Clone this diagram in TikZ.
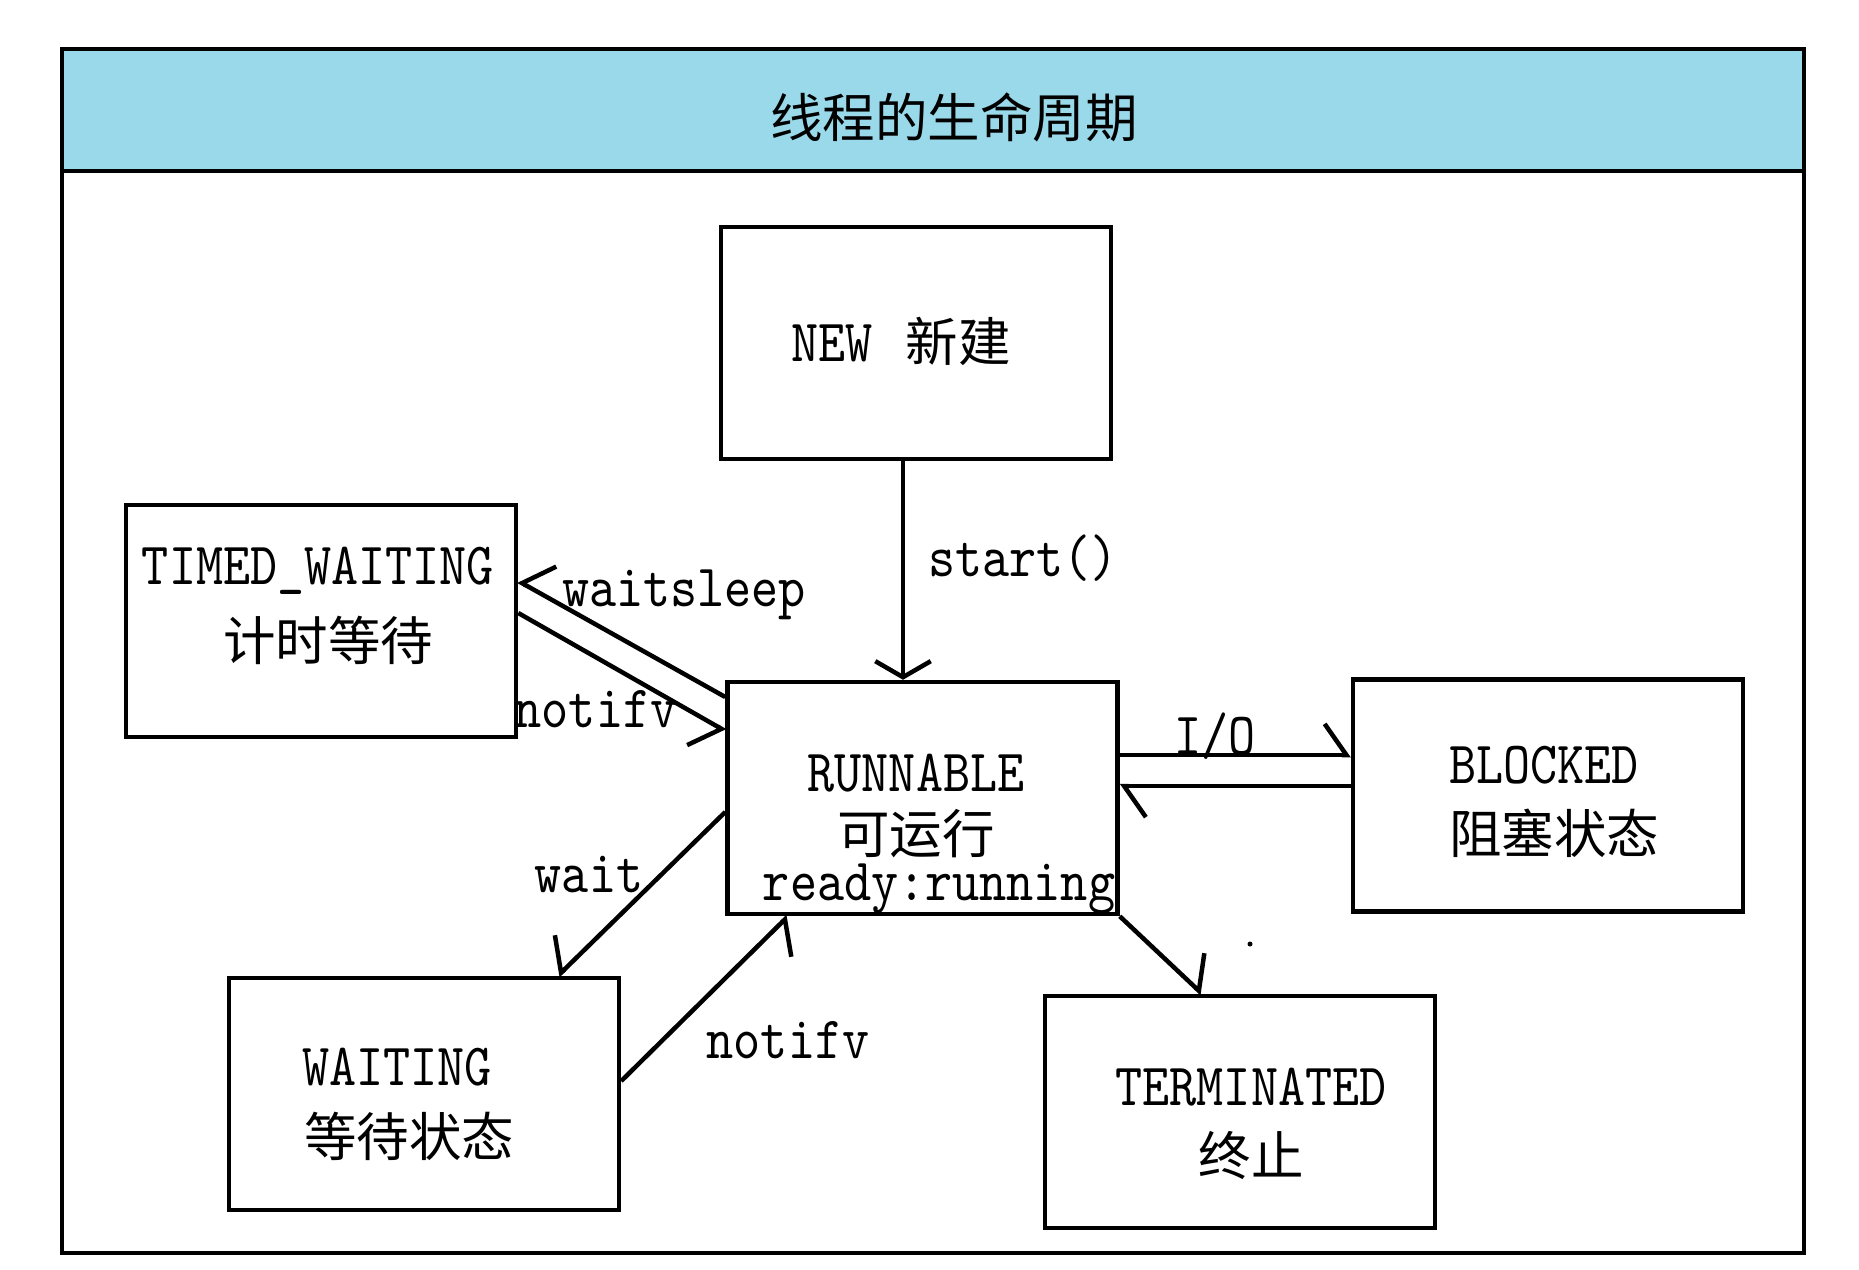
\documentclass[tikz,border=0pt]{standalone}
\usepackage{fontspec}
\newfontfamily\cjk{Noto Sans CJK SC}
\newfontfamily\latt[FakeStretch=0.86]{lmmono10-regular.otf}
\usetikzlibrary{arrows.meta}
\definecolor{headblue}{RGB}{153,217,234}
\tikzset{
  box/.style={draw, line width=4.5pt, minimum width=390pt, minimum height=232pt, inner sep=0pt},
  lat/.style={font=\fontsize{60}{70}\selectfont\latt, inner sep=0pt},
  han/.style={font=\fontsize{52.5}{60}\selectfont\cjk, inner sep=0pt},
  conn/.style={line width=4.5pt},
  tipL/.style={-{Straight Barb[harpoon, angle=110:38pt]}},
  tipR/.style={-{Straight Barb[harpoon, swap, angle=110:38pt]}},
  tipV/.style={-{Straight Barb[angle=120:32pt]}},
}
\begin{document}
\begin{tikzpicture}[x=1pt,y=-1pt]
\useasboundingbox (0,0) rectangle (1859,1269);
% frame and header
\fill[headblue] (62,49) rectangle (1804,171);
\draw[line width=4.5pt] (62,49) rectangle (1804,1253);
\draw[line width=4.5pt] (62,171) -- (1804,171);
\node[han] (title) at (954,117) {线程的生命周期};
% boxes
\node[box] (NEW) at (916,343) {};
\node[box] (TW) at (321,621) {};
\node[box] (RUN) at (922.5,798) {};
\node[box] (BL) at (1548,795.5) {};
\node[box] (WT) at (424,1094) {};
\node[box] (TERM) at (1240,1112) {};
% box texts
\node[lat] (tnew) at (901,341) {NEW\hspace{0.55em}{\cjk\fontsize{52.5}{60}\selectfont 新建}};
\node[lat] (ttw1) at (318,571) {TIMED\_WAITING};
\node[han] (ttw2) at (328,640) {计时等待};
\node[lat] (trun1) at (916,773) {RUNNABLE};
\node[han] (trun2) at (916,834) {可运行};
\node[lat] (trun3) at (939,889) {ready:running};
\node[lat] (tbl1) at (1544,765) {BLOCKED};
\node[han] (tbl2) at (1554,833) {阻塞状态};
\node[lat] (twt1) at (397,1067) {WAITING};
\node[han] (twt2) at (409,1136) {等待状态};
\node[lat] (tterm1) at (1251,1087) {TERMINATED};
\node[han] (tterm2) at (1251,1155) {终止};
% connectors
\draw[conn, tipV] ([xshift=-13pt]NEW.south) -- ([xshift=-19.5pt]RUN.north);
\draw[conn, tipR] (RUN.west |- 0,697) -- (TW.east |- 0,581);
\draw[conn, tipR] (TW.east |- 0,613) -- (RUN.west |- 0,731);
\draw[conn, tipR] (RUN.west |- 0,812) -- (WT.north -| 558,0);
\draw[conn, tipR] (WT.east |- 0,1081) -- (RUN.south -| 788,0);
\draw[conn, tipL] (RUN.south east) -- (TERM.north -| 1202,0);
\draw[conn, tipL] (RUN.east |- 0,755) -- (BL.west |- 0,755);
\draw[conn, tipL] (BL.west |- 0,786) -- (RUN.east |- 0,786);
% labels
\node[lat] (lstart) at (1023,558) {start()};
\node[lat] (lws) at (684,595) {waitsleep};
\node[lat] (ln1) at (596,709) {notifv};
\node[lat] (lwait) at (589,875) {wait};
\node[lat] (ln2) at (788,1040) {notifv};
\node[lat] (lio) at (1215,736) {I/O};
\node[circle, fill, inner sep=0pt, minimum size=5pt] (dot) at (1250,944) {};
\end{tikzpicture}
\end{document}
